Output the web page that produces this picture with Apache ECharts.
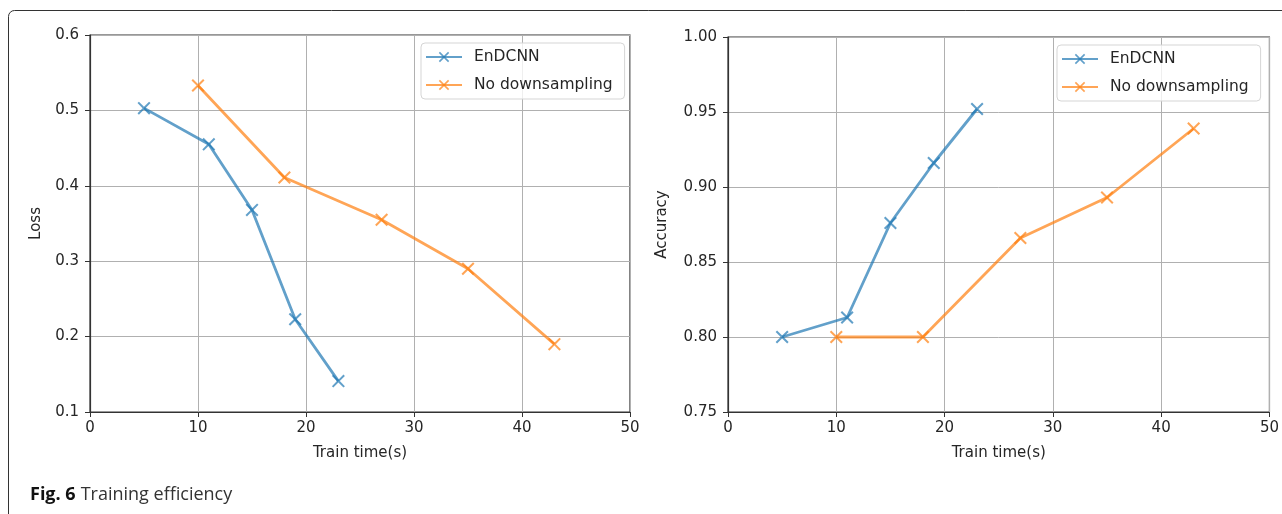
<!DOCTYPE html>
<html>
<head>
<meta charset="utf-8">
<script src="https://cdn.jsdelivr.net/npm/echarts@6/dist/echarts.min.js"></script>
<style>
  html, body { margin: 0; padding: 0; background: #fff; }
  #chart { width: 1282px; height: 514px; }
</style>
</head>
<body>
<div id="chart"></div>
<script>
// loss panel
const lossEnTime = [5, 11, 15, 19, 23];
const lossEnVal = [0.503, 0.455, 0.368, 0.223, 0.141];
const lossNoTime = [10, 18, 27, 35, 43];
const lossNoVal = [0.533, 0.411, 0.355, 0.290, 0.190];

// accuracy panel
const accEnTime = [5, 11, 15, 19, 23];
const accEnVal = [0.800, 0.813, 0.876, 0.916, 0.952];
const accNoTime = [10, 18, 27, 35, 43];
const accNoVal = [0.800, 0.800, 0.866, 0.893, 0.939];

const names = ['EnDCNN', 'No downsampling'];
const blue = '#1f77b4';
const orange = '#ff7f0e';
const font = 'DejaVu Sans';
const txt = '#262626';

// x-shaped marker as a filled outline
const xMark = 'path://M0,1.1L1.1,0L5,3.9L8.9,0L10,1.1L6.1,5L10,8.9L8.9,10L5,6.1L1.1,10L0,8.9L3.9,5Z';

const pairs = (xs, ys) => xs.map((x, i) => [x, ys[i]]);

const chart = echarts.init(document.getElementById('chart'));

function xAxisOf(gi) {
  return {
    type: 'value', gridIndex: gi, min: 0, max: 50, interval: 10,
    name: 'Train time(s)', nameLocation: 'middle', nameGap: 34,
    nameTextStyle: { fontFamily: font, fontSize: 15, color: txt },
    axisLine: { show: true, onZero: false, lineStyle: { color: '#333', width: 1.2 } },
    axisTick: { show: true, inside: false, length: 5, lineStyle: { color: '#333' } },
    axisLabel: { fontFamily: font, fontSize: 15, color: txt, margin: 9 },
    splitLine: { show: true, lineStyle: { color: '#b0b0b0', width: 1 } }
  };
}

function yAxisOf(gi, name, min, max, step, dec, gap) {
  return {
    type: 'value', gridIndex: gi, min: min, max: max, interval: step,
    name: name, nameLocation: 'middle', nameGap: gap, nameRotate: 90,
    nameTextStyle: { fontFamily: font, fontSize: 15, color: txt },
    axisLine: { show: true, onZero: false, lineStyle: { color: '#333', width: 1.2 } },
    axisTick: { show: true, inside: false, length: 5, lineStyle: { color: '#333' } },
    axisLabel: { fontFamily: font, fontSize: 15, color: txt, margin: 11,
      formatter: v => v.toFixed(dec) },
    splitLine: { show: true, lineStyle: { color: '#b0b0b0', width: 1 } }
  };
}

function lineOf(name, color, gi, data) {
  return {
    name: name, type: 'line', xAxisIndex: gi, yAxisIndex: gi,
    data: data, symbol: xMark, symbolSize: 13, showSymbol: true,
    lineStyle: { color: color, width: 2.8, opacity: 0.7 },
    itemStyle: { color: color, opacity: 0.7 },
    emphasis: { disabled: true }, animation: false
  };
}

function legendOf(left, top) {
  return {
    data: names, orient: 'vertical', left: left, top: top,
    backgroundColor: 'rgba(255,255,255,0.8)', borderColor: '#d5d5d5', borderWidth: 1,
    borderRadius: 4, padding: [6, 12, 6, 4], itemWidth: 36, itemHeight: 13, itemGap: 12,
    selectedMode: false,
    textStyle: { fontFamily: font, fontSize: 15.5, color: txt, padding: [0, 0, 0, 7] }
  };
}

chart.setOption({
  backgroundColor: '#fff',
  animation: false,
  title: {
    left: 25, top: 481,
    text: '{b|Fig. 6} {r|Training efficiency}',
    textStyle: {
      rich: {
        b: { fontFamily: 'Open Sans', fontWeight: 'bold', fontSize: 18, color: '#111' },
        r: { fontFamily: 'Open Sans', fontWeight: 'normal', fontSize: 18, color: '#333' }
      }
    }
  },
  graphic: [{
    type: 'rect', silent: true,
    shape: { x: 8.5, y: 10.5, width: 1300, height: 540, r: 6 },
    style: { fill: null, stroke: '#333', lineWidth: 1 }
  }],
  legend: [legendOf(421, 43), legendOf(1057, 45)],
  grid: [
    { left: 90, top: 35, width: 540, height: 377, show: true, borderColor: '#333', borderWidth: 1.2, backgroundColor: 'transparent' },
    { left: 728, top: 37, width: 544, height: 375, show: true, borderColor: '#333', borderWidth: 1.2, backgroundColor: 'transparent' }
  ],
  xAxis: [xAxisOf(0), xAxisOf(1)],
  yAxis: [
    yAxisOf(0, 'Loss', 0.1, 0.6, 0.1, 1, 46),
    yAxisOf(1, 'Accuracy', 0.75, 1.0, 0.05, 2, 58)
  ],
  series: [
    lineOf(names[0], blue, 0, pairs(lossEnTime, lossEnVal)),
    lineOf(names[1], orange, 0, pairs(lossNoTime, lossNoVal)),
    lineOf(names[0], blue, 1, pairs(accEnTime, accEnVal)),
    lineOf(names[1], orange, 1, pairs(accNoTime, accNoVal))
  ]
});
</script>
</body>
</html>
